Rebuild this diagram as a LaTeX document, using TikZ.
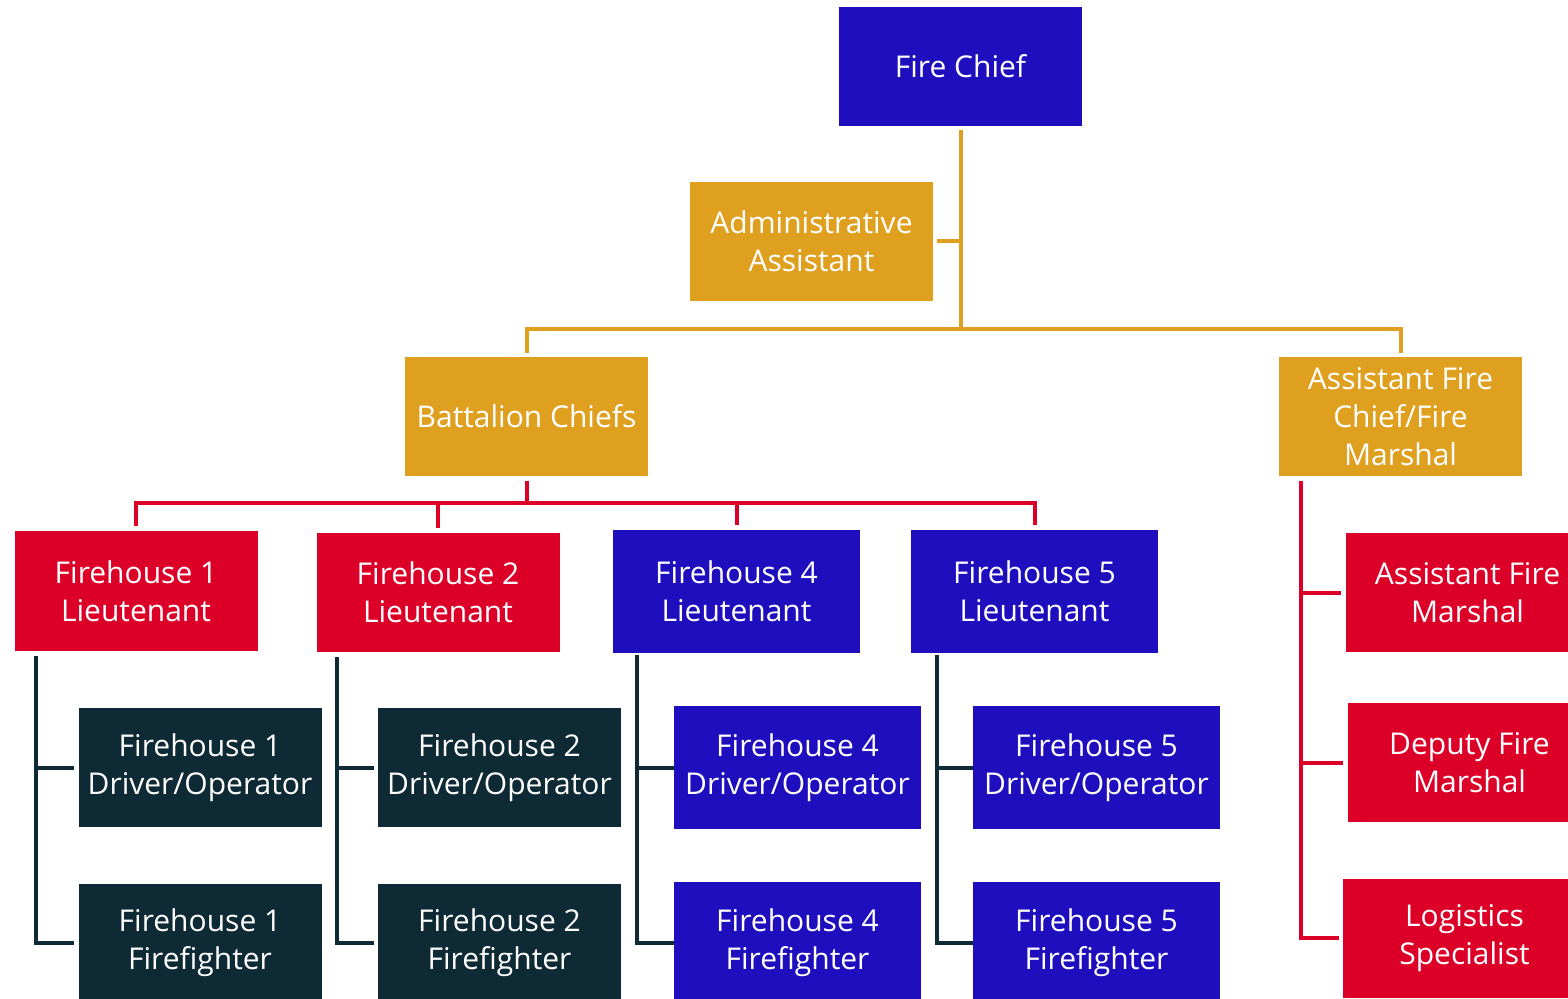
\documentclass[tikz,border=0pt]{standalone}
\usepackage{fontspec}
\setmainfont{Open Sans}
\usepackage{tikz}
\usepackage{xcolor}

\definecolor{chiefblue}{RGB}{31,14,190}
\definecolor{gold}{RGB}{223,160,32}
\definecolor{firered}{RGB}{220,0,40}
\definecolor{darkteal}{RGB}{14,42,53}

\tikzset{
  box/.style={minimum width=121.5pt, minimum height=59.5pt, inner sep=0pt, align=center,
    text=white, font=\fontsize{15}{19}\selectfont},
  widebox/.style={box, minimum width=123.5pt, minimum height=61.5pt},
  bluebox/.style={box, fill=chiefblue},
  goldbox/.style={box, fill=gold},
  redbox/.style={box, fill=firered},
  darkbox/.style={box, fill=darkteal},
  goldln/.style={draw=gold, line width=2pt},
  redln/.style={draw=firered, line width=2pt},
  darkln/.style={draw=darkteal, line width=2pt},
}

\begin{document}
\begin{tikzpicture}[x=0.5pt,y=0.5pt,yscale=-1,xscale=1]
\useasboundingbox (0,0) rectangle (1568,999);
\clip (0,0) rectangle (1568,999);

% Top level
\node [bluebox] (chief) at (960.5,66.5) {Fire Chief};
\node [goldbox] (admin) at (811.5,241.5) {Administrative\\Assistant};
\node [goldbox] (batt) at (526.5,416.5) {Battalion Chiefs};
\node [goldbox] (afc) at (1400.5,416.5) {Assistant Fire\\Chief/Fire\\Marshal};

% Lieutenants
\node [redbox] (fhonelt) at (136,591) {Firehouse 1\\Lieutenant};
\node [redbox] (fhtwolt) at (438,592.5) {Firehouse 2\\Lieutenant};
\node [bluebox,widebox,fill=chiefblue] (fhfourlt) at (736.5,591.5) {Firehouse 4\\Lieutenant};
\node [bluebox,widebox,fill=chiefblue] (fhfivelt) at (1034.5,591.5) {Firehouse 5\\Lieutenant};

% Crews
\node [darkbox] (fhonedrv) at (200,767.5) {Firehouse 1\\Driver/Operator};
\node [darkbox] (fhoneff) at (200,943) {Firehouse 1\\Firefighter};
\node [darkbox] (fhtwodrv) at (499.5,767.5) {Firehouse 2\\Driver/Operator};
\node [darkbox] (fhtwoff) at (499.5,943) {Firehouse 2\\Firefighter};
\node [bluebox,widebox,fill=chiefblue] (fhfourdrv) at (797.5,767.5) {Firehouse 4\\Driver/Operator};
\node [bluebox,widebox,fill=chiefblue] (fhfourff) at (797.5,943) {Firehouse 4\\Firefighter};
\node [bluebox,widebox,fill=chiefblue] (fhfivedrv) at (1096.5,767.5) {Firehouse 5\\Driver/Operator};
\node [bluebox,widebox,fill=chiefblue] (fhfiveff) at (1096.5,943) {Firehouse 5\\Firefighter};

% Marshal staff
\node [redbox] (afm) at (1467.5,592.5) {Assistant Fire\\Marshal};
\node [redbox] (dfm) at (1469.5,762.5) {Deputy Fire\\Marshal};
\node [redbox] (logi) at (1464.5,938) {Logistics\\Specialist};

% Gold connectors
\coordinate (goldbus) at (961,329);
\draw [goldln, shorten <=2pt] (chief.south) -- (chief.south |- goldbus);
\draw [goldln, shorten <=2pt] (admin.east) -- (admin.east -| chief.south);
\draw [goldln, shorten <=2pt, shorten >=2pt] (batt.north) |- (goldbus) -| (afc.north);

% Red connectors
\coordinate (redbus) at (526,503);
\draw [redln, shorten <=2.5pt] (batt.south) -- (batt.south |- redbus);
\draw [redln, shorten <=2.5pt, shorten >=2.5pt] (fhonelt.north) |- (redbus) -| (fhfivelt.north);
\draw [redln, shorten <=2.5pt] (fhtwolt.north) -- (fhtwolt.north |- redbus);
\draw [redln, shorten <=2.5pt] (fhfourlt.north) -- (fhfourlt.north |- redbus);

% Crew connectors
\coordinate (onespine) at ([xshift=11pt]fhonelt.south west);
\coordinate (twospine) at ([xshift=10.5pt]fhtwolt.south west);
\coordinate (fourspine) at ([xshift=12pt]fhfourlt.south west);
\coordinate (fivespine) at ([xshift=13pt]fhfivelt.south west);
\draw [darkln, shorten <=2.5pt, shorten >=2pt] (onespine) |- (fhoneff.west);
\draw [darkln, shorten >=2pt] (onespine |- fhonedrv.west) -- (fhonedrv.west);
\draw [darkln, shorten <=2.5pt, shorten >=2pt] (twospine) |- (fhtwoff.west);
\draw [darkln, shorten >=2pt] (twospine |- fhtwodrv.west) -- (fhtwodrv.west);
\draw [darkln, shorten <=1pt] (fourspine) |- (fhfourff.west);
\draw [darkln] (fourspine |- fhfourdrv.west) -- (fhfourdrv.west);
\draw [darkln, shorten <=1pt] (fivespine) |- (fhfiveff.west);
\draw [darkln] (fivespine |- fhfivedrv.west) -- (fhfivedrv.west);

% Marshal connectors
\coordinate (afcspine) at ([xshift=11pt]afc.south west);
\draw [redln, shorten <=2.5pt, shorten >=2pt] (afcspine) |- (logi.west);
\draw [redln, shorten >=2.5pt] (afcspine |- afm.west) -- (afm.west);
\draw [redln, shorten >=2.5pt] (afcspine |- dfm.west) -- (dfm.west);

\end{tikzpicture}
\end{document}
